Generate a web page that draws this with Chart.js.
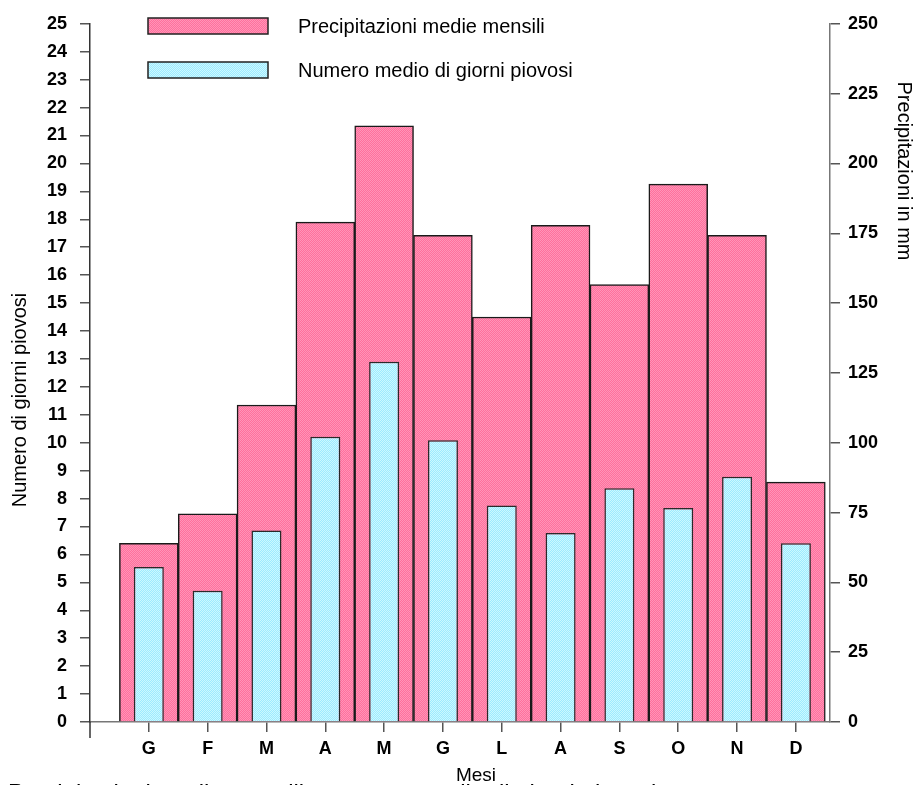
<!DOCTYPE html>
<html>
<head>
<meta charset="utf-8">
<script src="https://cdn.jsdelivr.net/npm/chart.js@4/dist/chart.umd.min.js"></script>
<style>
  body { margin: 0; background: #fff; overflow: hidden; }
</style>
</head>
<body>
<canvas id="myChart" width="916" height="785"></canvas>
<script>
// mesi e valori
const mesi = ['G', 'F', 'M', 'A', 'M', 'G', 'L', 'A', 'S', 'O', 'N', 'D'];
const precipitazioni = [64, 74.5, 113.5, 179, 213.5, 174.3, 145, 177.8, 156.6, 192.6, 174.3, 85.9];
const giorniPiovosi = [5.55, 4.7, 6.86, 10.21, 12.9, 10.09, 7.75, 6.77, 8.37, 7.66, 8.78, 6.4];
const tickGiorni = [0, 25, 1];      // min, max, passo asse sinistro
const tickMm = [0, 250, 25];        // min, max, passo asse destro

function pattern (c1, c2) {
    const p = document.createElement('canvas');
    p.width = 2; p.height = 2;
    const g = p.getContext('2d');
    g.fillStyle = c1; g.fillRect(0, 0, 2, 2);
    g.fillStyle = c2; g.fillRect(0, 0, 1, 1); g.fillRect(1, 1, 1, 1);
    return g.createPattern(p, 'repeat');
}

const ctx = document.getElementById('myChart').getContext('2d');
const rosa = pattern('rgb(255,112,156)', 'rgb(255,148,184)');
const azzurro = pattern('rgb(158,234,255)', 'rgb(204,249,255)');

Chart.defaults.font.family = '"Liberation Sans", Arial, sans-serif';
Chart.defaults.color = '#000';

const extra = {
    id: 'extra',
    afterDraw (chart) {
        const c = chart.ctx;
        const area = chart.chartArea;
        c.save();
        // prolungamento asse sinistro sotto lo zero
        c.strokeStyle = '#333';
        c.lineWidth = 1.5;
        c.beginPath();
        c.moveTo(area.left, area.bottom);
        c.lineTo(area.left, area.bottom + 16);
        c.stroke();

        // legenda
        const voci = chart.data.datasets;
        c.font = '20px "Liberation Sans", Arial, sans-serif';
        c.textBaseline = 'middle';
        voci.forEach((ds, i) => {
            const y = 18 + i * 44;
            c.fillStyle = ds.backgroundColor;
            c.fillRect(148, y, 120, 16);
            c.strokeStyle = '#222';
            c.lineWidth = 1.5;
            c.strokeRect(148, y, 120, 16);
            c.fillStyle = '#000';
            c.fillText(ds.label, 298, y + 9);
        });

        // titoli assi
        c.textAlign = 'center';
        c.save();
        c.translate(20, 400);
        c.rotate(-Math.PI / 2);
        c.fillText('Numero di giorni piovosi', 0, 0);
        c.restore();
        c.save();
        c.translate(904, 171);
        c.rotate(Math.PI / 2);
        c.fillText('Precipitazioni in mm', 0, 0);
        c.restore();
        c.textBaseline = 'alphabetic';
        c.font = '19px "Liberation Sans", Arial, sans-serif';
        c.fillText('Mesi', 476, 781);

        // didascalia tagliata in fondo
        c.textAlign = 'left';
        c.font = '24px "Liberation Sans", Arial, sans-serif';
        c.fillText('Precipitazioni medie mensili e numero medio di giorni piovosi', 8, 801);
        c.restore();
    }
};

const config = {
    type: 'bar',
    data: {
        datasets: [{
            label: 'Precipitazioni medie mensili',
            data: precipitazioni.map((v, i) => ({x: i, y: v})),
            yAxisID: 'mm',
            backgroundColor: rosa,
            borderColor: '#1a1a1a',
            borderWidth: 1.5,
            barPercentage: 1,
            categoryPercentage: 1,
            grouped: false,
            order: 1
        }, {
            label: 'Numero medio di giorni piovosi',
            data: giorniPiovosi.map((v, i) => ({x: i, y: v})),
            yAxisID: 'giorni',
            backgroundColor: azzurro,
            borderColor: '#2a2a2a',
            borderWidth: 1.5,
            barPercentage: 0.51,
            categoryPercentage: 1,
            grouped: false,
            order: 0
        }]
    },
    options: {
        responsive: false,
        devicePixelRatio: 1,
        animation: false,
        layout: { padding: { top: 21, left: 0, right: 0, bottom: 0 } },
        plugins: { legend: { display: false }, tooltip: { enabled: false } },
        scales: {
            x: {
                type: 'linear',
                offset: false,
                min: -1,
                max: 11.58,
                afterBuildTicks: (s) => { s.ticks = mesi.map((m, i) => ({value: i})); },
                afterFit: (s) => { s.height = 63; },
                ticks: {
                    autoSkip: false,
                    maxRotation: 0,
                    padding: 6,
                    font: { size: 18, weight: 'bold' },
                    callback: (v) => mesi[v]
                },
                grid: { offset: false, drawOnChartArea: false, tickLength: 10, color: '#555', lineWidth: 1.5 },
                border: { color: '#777', width: 1.5 }
            },
            giorni: {
                position: 'left',
                min: tickGiorni[0],
                max: tickGiorni[1],
                afterFit: (s) => { s.width = 90; },
                ticks: { stepSize: tickGiorni[2], padding: 13, font: { size: 18, weight: 'bold' } },
                grid: { drawOnChartArea: false, tickLength: 10, color: '#555', lineWidth: 1.5 },
                border: { color: '#333', width: 1.5 }
            },
            mm: {
                position: 'right',
                min: tickMm[0],
                max: tickMm[1],
                afterFit: (s) => { s.width = 86; },
                ticks: { stepSize: tickMm[2], padding: 8, font: { size: 18, weight: 'bold' } },
                grid: { drawOnChartArea: false, tickLength: 10, color: '#555', lineWidth: 1.5 },
                border: { color: '#777', width: 1.5 }
            }
        }
    },
    plugins: [extra]
};

const myChart = new Chart(ctx, config);
</script>
</body>
</html>
